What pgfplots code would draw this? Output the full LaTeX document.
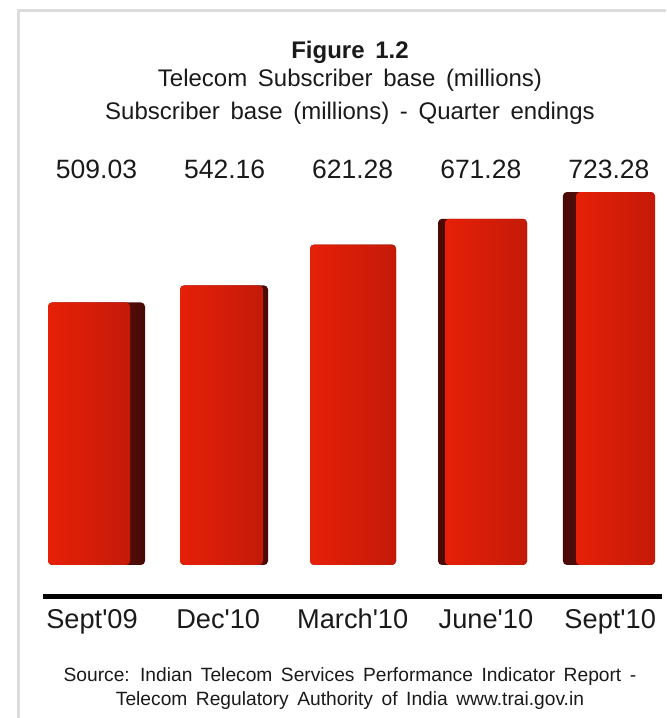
\documentclass[border=0pt]{standalone}
\usepackage{pgfplots}
\pgfplotsset{compat=1.18}
\usepackage{fontspec}
\setmainfont{Liberation Sans}
\newfontfamily\wsfont[WordSpace=1.6]{Liberation Sans}
\definecolor{txt}{RGB}{26,26,26}
\definecolor{frontL}{RGB}{230,32,8}
\definecolor{frontR}{RGB}{196,26,8}
\definecolor{sideA}{RGB}{128,22,12}
\definecolor{sideB}{RGB}{72,10,6}
\definecolor{frame}{RGB}{220,220,220}
\begin{document}
\begin{tikzpicture}
\path[use as bounding box] (0,0) rectangle (333pt,-359pt);
\begin{axis}[at={(0,0)}, anchor=north west, scale only axis,
  width=333pt, height=359pt,
  xmin=-0.7533, xmax=4.4458, ymin=-296.7, ymax=1095.6,
  hide axis, clip=false, ybar]
% dark sides (full bar extents)
\addplot[draw=none, rounded corners=2pt, bar width=48.5pt, bar shift=0pt, left color=sideA, right color=sideB] coordinates {(0,509.03)};
\addplot[draw=none, rounded corners=2pt, bar width=44pt, bar shift=-0.3pt, left color=sideA, right color=sideB] coordinates {(1,542.16)};
\addplot[draw=none, rounded corners=2pt, bar width=43pt, bar shift=0.15pt, left color=sideA, right color=sideB] coordinates {(2,621.28)};
\addplot[draw=none, rounded corners=2pt, bar width=44.5pt, bar shift=0.85pt, left color=sideB, right color=sideA] coordinates {(3,671.28)};
\addplot[draw=none, rounded corners=2pt, bar width=46pt, bar shift=0pt, left color=sideB, right color=sideA] coordinates {(4,723.28)};
% front faces
\addplot[draw=none, rounded corners=2pt, bar width=41pt, bar shift=-3.75pt, left color=frontL, right color=frontR] coordinates {(0,509.03)};
\addplot[draw=none, rounded corners=2pt, bar width=41.5pt, bar shift=-1.55pt, left color=frontL, right color=frontR] coordinates {(1,542.16)};
\addplot[draw=none, rounded corners=2pt, bar width=43pt, bar shift=0.15pt, left color=frontL, right color=frontR] coordinates {(2,621.28)};
\addplot[draw=none, rounded corners=2pt, bar width=41pt, bar shift=2.6pt, left color=frontL, right color=frontR] coordinates {(3,671.28)};
\addplot[draw=none, rounded corners=2pt, bar width=39.5pt, bar shift=3.3pt, left color=frontL, right color=frontR] coordinates {(4,723.28)};
% value labels
\begin{scope}[every node/.style={anchor=base, text=txt, font=\fontsize{13.25}{15}\selectfont\wsfont, inner sep=0pt}]
\node at (axis cs:0,748.5) {509.03};
\node at (axis cs:1,748.5) {542.16};
\node at (axis cs:2,748.5) {621.28};
\node at (axis cs:3,748.5) {671.28};
\node at (axis cs:4,748.5) {723.28};
\end{scope}
% category labels
\begin{scope}[every node/.style={anchor=base, text=txt, font=\fontsize{13.6}{15}\selectfont\wsfont, inner sep=0pt}]
\node at (axis cs:-0.035,-122.2) {Sept'09};
\node at (axis cs:0.95,-122.2) {Dec'10};
\node at (axis cs:2,-122.2) {March'10};
\node at (axis cs:3.04,-122.2) {June'10};
\node at (axis cs:4.01,-122.2) {Sept'10};
\end{scope}
\end{axis}
\begin{scope}[x=0.5pt, y=-0.5pt]
\draw[frame, line width=1.5pt] (18.5,10.5) -- (18.5,718);
\draw[frame, line width=1.5pt] (17,10.5) -- (666,10.5);
\draw[black, line width=2.5pt] (43,596.5) -- (662,596.5);
\node[anchor=base, inner sep=0pt, text=txt, font=\fontsize{12}{14}\selectfont\bfseries\wsfont] at (350,58) {Figure 1.2};
\node[anchor=base, inner sep=0pt, text=txt, font=\fontsize{12}{14}\selectfont\wsfont] at (350,86) {Telecom Subscriber base (millions)};
\node[anchor=base, inner sep=0pt, text=txt, font=\fontsize{12}{14}\selectfont\wsfont] at (350,119) {Subscriber base (millions) - Quarter endings};
\node[anchor=base, inner sep=0pt, text=txt, font=\fontsize{9.6}{11}\selectfont\wsfont] at (350,681) {Source: Indian Telecom Services Performance Indicator Report -};
\node[anchor=base, inner sep=0pt, text=txt, font=\fontsize{9.6}{11}\selectfont\wsfont] at (350,705) {Telecom Regulatory Authority of India www.trai.gov.in};
\end{scope}
\end{tikzpicture}
\end{document}
